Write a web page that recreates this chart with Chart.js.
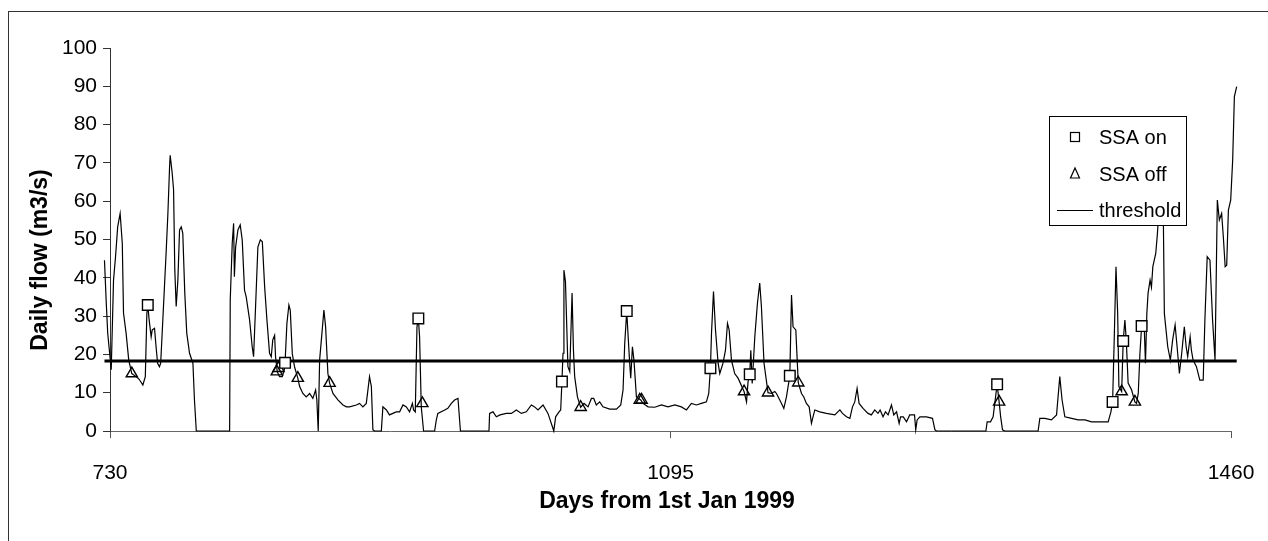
<!DOCTYPE html>
<html>
<head>
<meta charset="utf-8">
<title>Daily flow and SSA switching</title>
<script src="https://cdn.jsdelivr.net/npm/chart.js@4.4.1/dist/chart.umd.min.js"></script>
<style>
  html, body { margin: 0; padding: 0; background: #fff; }
  #wrap { width: 1268px; height: 541px; }
</style>
</head>
<body>
<div id="wrap"><canvas id="flowChart" width="1268" height="541"></canvas></div>
<script>
// daily flow record (m3/s), days counted from 1st Jan 1999
const flowDays = [
  726.4, 727.5, 728.5, 730.8, 732.3, 733.6, 735.0, 736.6, 738.0, 738.8, 740.5, 742.2, 744.2, 747.0, 749.0, 751.4,
  753.0, 754.0, 754.6, 755.5, 756.8, 757.5, 759.0, 760.0, 761.0, 762.2, 763.0, 764.4, 766.6, 767.7, 768.8, 769.2,
  770.5, 771.4, 772.2, 773.1, 774.2, 775.3, 776.4, 777.4, 778.7, 780.0, 781.8, 784.0, 785.0, 786.2, 807.9, 808.3,
  809.6, 810.5, 811.0, 811.8, 813.3, 814.8, 816.1, 817.6, 818.7, 820.9, 822.6, 823.5, 824.8, 826.3, 827.9, 829.2,
  830.7, 832.2, 833.9, 835.0, 836.0, 837.2, 837.8, 838.9, 840.4, 842.2, 843.5, 844.0, 845.2, 846.5, 847.4, 848.7,
  850.2, 852.3, 853.5, 855.6, 857.8, 860.0, 862.1, 863.9, 864.7, 865.6, 866.5, 868.2, 869.3, 870.4, 871.9, 873.0,
  875.2, 878.4, 881.7, 884.0, 886.0, 890.4, 892.5, 894.7, 896.9, 899.0, 900.2, 901.2, 902.3, 906.7, 907.7, 910.0,
  912.0, 914.2, 916.4, 918.6, 920.8, 923.0, 925.1, 926.9, 927.7, 928.8, 929.9, 930.8, 931.6, 932.7, 934.2, 941.4,
  942.5, 943.5, 948.0, 950.0, 952.3, 954.4, 956.6, 958.2, 976.8, 977.2, 979.4, 981.6, 984.0, 988.1, 991.4, 994.6,
  997.9, 1001.1, 1004.4, 1006.5, 1008.7, 1012.0, 1015.2, 1018.1, 1019.0, 1020.2, 1022.4, 1023.5, 1024.3, 1025.0, 1025.6, 1026.6,
  1028.2, 1029.4, 1030.9, 1031.8, 1032.6, 1034.4, 1036.5, 1038.7, 1041.3, 1043.5, 1045.0, 1046.7, 1048.9, 1051.0, 1055.4, 1059.8,
  1062.6, 1064.1, 1065.2, 1066.5, 1067.3, 1068.3, 1069.1, 1070.2, 1071.2, 1072.8, 1075.6, 1077.1, 1080.4, 1084.7, 1089.1, 1093.4,
  1097.8, 1102.1, 1105.4, 1108.6, 1111.9, 1115.1, 1118.4, 1119.9, 1121.0, 1121.7, 1123.0, 1124.3, 1126.0, 1127.1, 1129.2, 1130.8,
  1132.1, 1133.2, 1134.7, 1136.8, 1139.0, 1142.9, 1144.5, 1145.5, 1146.6, 1147.3, 1148.2, 1149.9, 1151.6, 1153.1, 1154.2, 1155.9,
  1158.5, 1160.7, 1162.9, 1164.0, 1167.3, 1168.8, 1170.5, 1172.7, 1173.8, 1174.8, 1176.6, 1178.2, 1180.3, 1181.8, 1183.5, 1185.3,
  1186.8, 1187.8, 1189.0, 1192.2, 1196.6, 1202.0, 1205.3, 1207.0, 1209.6, 1211.8, 1213.5, 1215.0, 1216.5, 1217.8, 1220.4, 1223.6,
  1225.8, 1228.0, 1230.1, 1231.5, 1233.4, 1235.0, 1236.7, 1238.9, 1240.4, 1242.2, 1243.9, 1244.8, 1246.6, 1248.7, 1250.8, 1253.9,
  1254.7, 1255.6, 1257.4, 1261.7, 1265.6, 1267.2, 1268.2, 1300.4, 1301.2, 1303.4, 1305.1, 1307.7, 1309.0, 1310.0, 1311.2, 1312.7,
  1334.4, 1335.5, 1338.8, 1343.1, 1346.4, 1348.5, 1350.0, 1351.8, 1356.2, 1360.5, 1364.9, 1369.2, 1375.7, 1380.0, 1381.8, 1382.9,
  1384.0, 1385.1, 1386.2, 1387.0, 1388.8, 1389.8, 1390.9, 1391.8, 1393.0, 1395.3, 1397.4, 1398.5, 1399.6, 1400.7, 1401.8, 1403.5,
  1404.3, 1405.2, 1406.0, 1407.3, 1408.2, 1409.1, 1411.0, 1412.1, 1413.2, 1414.6, 1416.0, 1416.6, 1418.8, 1420.5, 1422.0, 1423.6,
  1424.9, 1426.4, 1427.9, 1429.6, 1430.8, 1431.8, 1433.4, 1434.2, 1435.3, 1437.5, 1439.7, 1441.9, 1443.0, 1444.5, 1446.3, 1448.0,
  1449.6, 1450.6, 1451.1, 1452.4, 1453.9, 1455.0, 1456.2, 1457.2, 1458.3, 1459.8, 1461.1, 1462.2, 1463.7
];
const flowValues = [
  44.6, 34.0, 25.6, 16.0, 39.4, 45.5, 53.3, 56.8, 49.0, 30.8, 25.5, 18.5, 15.0, 14.2, 13.5, 12.0,
  14.2, 30.7, 32.9, 29.0, 24.6, 26.4, 26.8, 22.0, 17.7, 16.8, 17.7, 29.0, 47.0, 56.8, 69.0, 72.0,
  67.3, 63.0, 42.0, 32.5, 39.4, 52.5, 53.3, 51.6, 36.0, 25.5, 20.3, 17.7, 8.1, 0, 0, 34.2,
  49.0, 54.2, 40.3, 48.0, 52.5, 53.8, 49.9, 36.8, 35.0, 29.0, 22.0, 19.4, 32.5, 48.0, 49.9, 49.4,
  37.7, 29.0, 20.3, 19.4, 23.8, 25.0, 19.4, 15.5, 14.2, 14.2, 16.0, 17.8, 28.1, 32.9, 31.5, 20.2,
  16.7, 13.8, 11.6, 9.8, 8.9, 9.8, 8.5, 10.7, 8.1, 0, 18.5, 26.4, 31.6, 27.2, 15.0, 12.5,
  9.8, 8.1, 6.8, 6.3, 6.3, 6.8, 7.2, 6.3, 7.2, 14.2, 11.6, 0.3, 0, 0, 6.3, 5.5,
  4.2, 4.6, 5.0, 5.0, 6.8, 6.3, 5.0, 7.2, 5.5, 5.0, 27.2, 29.4, 24.6, 6.3, 0, 0,
  2.9, 4.6, 5.5, 5.9, 7.2, 8.1, 8.5, 0, 0, 4.6, 5.0, 3.7, 4.2, 4.6, 4.6, 5.5,
  4.6, 5.0, 6.8, 6.3, 5.5, 6.8, 4.6, 1.1, 0, 3.7, 5.0, 5.5, 12.9, 20.3, 42.0, 39.0,
  16.8, 15.5, 36.0, 21.1, 14.2, 8.9, 6.2, 7.2, 6.3, 8.5, 8.5, 6.8, 7.6, 6.3, 5.7, 5.7,
  6.8, 10.7, 22.9, 31.3, 25.5, 18.5, 13.8, 22.0, 18.5, 8.9, 8.1, 7.2, 6.3, 6.2, 6.8, 6.3,
  6.8, 6.3, 5.5, 7.2, 6.8, 7.2, 7.6, 9.8, 16.4, 25.5, 36.4, 26.4, 17.7, 15.0, 17.7, 21.1,
  28.1, 26.4, 18.5, 15.0, 13.8, 10.3, 7.6, 12.9, 14.8, 21.1, 12.4, 24.6, 33.3, 38.6, 32.5, 17.7,
  10.0, 9.8, 10.3, 9.8, 7.2, 5.9, 8.9, 14.4, 35.5, 27.2, 26.4, 12.6, 9.8, 8.9, 7.2, 6.3,
  2.0, 3.7, 5.5, 5.0, 4.6, 4.2, 5.5, 4.6, 3.7, 3.3, 6.3, 7.6, 11.1, 7.2, 5.9, 4.6,
  4.2, 5.5, 4.6, 5.5, 3.7, 5.0, 4.2, 6.8, 4.2, 5.0, 2.0, 3.7, 3.7, 2.4, 4.2, 4.2,
  0.3, 2.9, 3.7, 3.7, 3.3, 0.3, 0, 0, 2.4, 2.4, 3.7, 12.2, 7.6, 3.7, 0.3, 0,
  0, 3.3, 3.3, 2.9, 4.2, 14.2, 8.1, 3.7, 3.3, 2.9, 2.9, 2.4, 2.4, 2.4, 5.0, 7.6,
  24.6, 42.9, 30.7, 11.6, 10.3, 23.5, 29.0, 23.8, 12.5, 10.7, 7.6, 7.2, 9.8, 20.3, 27.4, 27.0,
  17.7, 30.7, 36.0, 39.4, 37.5, 42.9, 46.4, 51.6, 58.6, 66.0, 53.3, 30.7, 22.0, 18.5, 23.8, 27.7,
  22.0, 15.0, 20.3, 27.2, 22.0, 19.4, 24.6, 21.1, 18.5, 16.8, 13.3, 13.3, 29.0, 45.5, 44.6, 29.0,
  18.5, 46.4, 60.3, 55.1, 56.8, 50.7, 42.9, 43.3, 57.7, 60.3, 70.8, 87.3, 89.9
];

// days on which the SSA was switched on / off, with the flow on that day
const ssaOnDays = [754.6, 844.0, 930.8, 1024.3, 1066.5, 1121.0, 1146.6, 1172.7, 1307.7, 1382.9, 1389.8, 1401.8];
const ssaOnFlow = [32.9, 17.8, 29.4, 12.9, 31.3, 16.4, 14.8, 14.4, 12.2, 7.6, 23.5, 27.4];
const ssaOffDays = [744.2, 838.6, 839.7, 852.3, 873.0, 933.4, 1036.5, 1075.0, 1076.2, 1142.9, 1158.5, 1178.2, 1309.0, 1388.8, 1397.4];
const ssaOffFlow = [15.0, 15.5, 16.4, 13.8, 12.5, 7.2, 6.2, 8.1, 8.1, 10.3, 10.0, 12.6, 7.6, 10.3, 7.6];

const thresholdDays = [726.4, 1463.7];
const thresholdFlow = 18.3;

const xRange = [730, 1460];
const xTicks = [730, 1095, 1460];
const yTicks = [0, 10, 20, 30, 40, 50, 60, 70, 80, 90, 100];

const FONT = '"Liberation Sans", Arial, sans-serif';

const toPoints = (xs, ys) => xs.map((x, i) => ({ x: x, y: Array.isArray(ys) ? ys[i] : ys }));

// outer frame and axis titles
const framePlugin = {
    id: 'frame',
    beforeDraw(chart) {
        const ctx = chart.ctx;
        ctx.save();
        ctx.fillStyle = '#fff';
        ctx.fillRect(0, 0, chart.width, chart.height);
        ctx.strokeStyle = '#333';
        ctx.lineWidth = 1;
        ctx.strokeRect(8.5, 11.5, chart.width + 20, chart.height + 20);
        ctx.restore();
    },
    afterDraw(chart) {
        const ctx = chart.ctx;
        ctx.save();
        ctx.fillStyle = '#000';
        ctx.font = 'bold 23px ' + FONT;
        ctx.textAlign = 'center';
        ctx.textBaseline = 'middle';
        ctx.fillText('Days from 1st Jan 1999', 667, 502);
        ctx.translate(41, 260);
        ctx.rotate(-Math.PI / 2);
        ctx.fillText('Daily flow (m3/s)', 0, 0);
        ctx.restore();
    }
};

// legend box sitting inside the plot, drawn over the flow line
const legendPlugin = {
    id: 'boxLegend',
    afterDatasetsDraw(chart) {
        const ctx = chart.ctx;
        const ds = chart.data.datasets;
        const box = { x: 1049.5, y: 116.5, w: 137, h: 109 };
        ctx.save();
        ctx.fillStyle = '#fff';
        ctx.strokeStyle = '#000';
        ctx.lineWidth = 1;
        ctx.fillRect(box.x, box.y, box.w, box.h);
        ctx.strokeRect(box.x, box.y, box.w, box.h);

        const mx = 1075, tx = 1099;
        const rows = [137, 174, 210];
        ctx.lineWidth = 1.2;
        // square
        ctx.strokeRect(mx - 4.5, rows[0] - 4.5, 9, 9);
        // triangle
        ctx.beginPath();
        ctx.moveTo(mx, rows[1] - 6);
        ctx.lineTo(mx + 4.5, rows[1] + 4);
        ctx.lineTo(mx - 4.5, rows[1] + 4);
        ctx.closePath();
        ctx.stroke();
        // line
        ctx.lineWidth = 1;
        ctx.beginPath();
        ctx.moveTo(1057, rows[2] + 0.5);
        ctx.lineTo(1093, rows[2] + 0.5);
        ctx.stroke();

        ctx.fillStyle = '#000';
        ctx.font = '20px ' + FONT;
        ctx.textAlign = 'left';
        ctx.textBaseline = 'middle';
        ctx.fillText(ds[0].label, tx, rows[0] + 1);
        ctx.fillText(ds[1].label, tx, rows[1] + 1);
        ctx.fillText(ds[2].label, tx, rows[2] + 1);
        ctx.restore();
    }
};

new Chart(document.getElementById('flowChart'), {
    type: 'scatter',
    data: {
        datasets: [
            {
                label: 'SSA on',
                data: toPoints(ssaOnDays, ssaOnFlow),
                pointStyle: 'rect',
                pointRadius: 7.5,
                borderColor: '#000',
                backgroundColor: '#fff',
                borderWidth: 1.4,
                clip: false
            },
            {
                label: 'SSA off',
                data: toPoints(ssaOffDays, ssaOffFlow),
                pointStyle: 'triangle',
                pointRadius: 6.5,
                borderColor: '#000',
                backgroundColor: 'rgba(255,255,255,0)',
                borderWidth: 1.4,
                clip: false
            },
            {
                label: 'threshold',
                data: toPoints(flowDays, flowValues),
                showLine: true,
                pointRadius: 0,
                borderColor: '#000',
                borderWidth: 1.2,
                tension: 0,
                clip: false
            },
            {
                label: 'threshold level',
                data: toPoints(thresholdDays, thresholdFlow),
                showLine: true,
                pointRadius: 0,
                borderColor: '#000',
                borderWidth: 3,
                clip: false
            }
        ]
    },
    options: {
        responsive: false,
        animation: false,
        events: [],
        layout: { padding: { left: 0, top: 48, right: 37, bottom: 0 } },
        plugins: {
            legend: { display: false },
            tooltip: { enabled: false }
        },
        scales: {
            x: {
                type: 'linear',
                bounds: 'data',
                // range set after the data limits so the line runs a little past both ends
                afterDataLimits: scale => { scale.min = xRange[0]; scale.max = xRange[1]; },
                afterBuildTicks: scale => { scale.ticks = xTicks.map(v => ({ value: v })); },
                afterFit: scale => {
                    scale.height = 110;
                    // labels may hang over the ends; keep the plot width fixed
                    scale.paddingLeft = 0;
                    scale.paddingRight = 0;
                },
                ticks: {
                    color: '#000',
                    font: { family: FONT, size: 21 },
                    padding: 23,
                    maxRotation: 0,
                    callback: v => String(v)
                },
                grid: { drawOnChartArea: false, drawTicks: true, tickLength: 7, color: '#555' },
                border: { display: true, color: '#666', width: 1 }
            },
            y: {
                min: 0,
                max: 100,
                afterBuildTicks: scale => { scale.ticks = yTicks.map(v => ({ value: v })); },
                afterFit: scale => { scale.width = 110; },
                ticks: { color: '#000', font: { family: FONT, size: 21 }, padding: 6 },
                grid: { drawOnChartArea: false, drawTicks: true, tickLength: 7, color: '#333' },
                border: { display: true, color: '#333', width: 1 }
            }
        }
    },
    plugins: [framePlugin, legendPlugin]
});
</script>
</body>
</html>
